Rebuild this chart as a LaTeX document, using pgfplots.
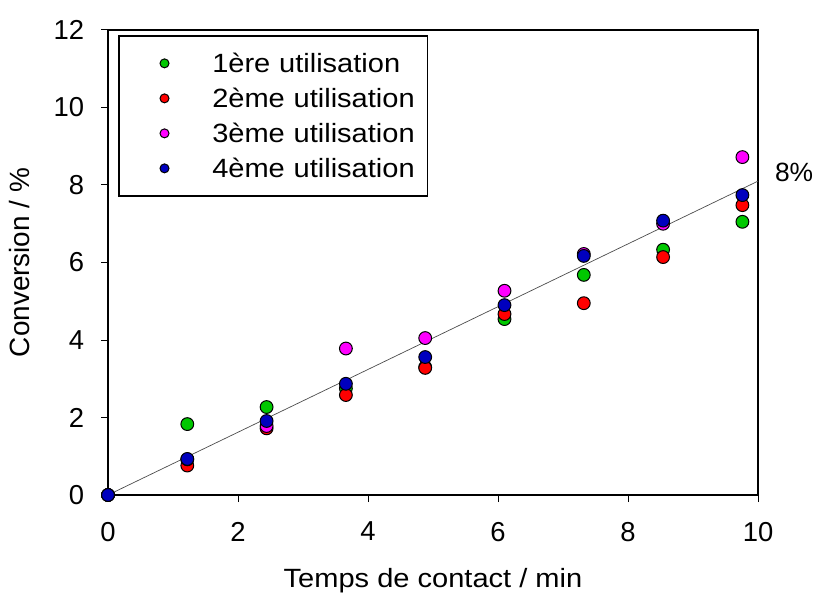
\documentclass[border=0pt]{standalone}
\usepackage{fontspec}
\setmainfont[FakeStretch=1.1]{Liberation Sans}
\newfontfamily\plainfont{Liberation Sans}
\usepackage{pgfplots}
\pgfplotsset{compat=1.18}
\definecolor{cgreen}{RGB}{0,200,0}
\definecolor{cred}{RGB}{255,0,0}
\definecolor{cmag}{RGB}{255,0,255}
\definecolor{cblue}{RGB}{0,0,190}
\begin{document}
\fontsize{26.5}{30}\selectfont
\begin{tikzpicture}
\begin{axis}[
  scale only axis,
  width=650bp, height=465bp,
  xmin=0, xmax=10, ymin=0, ymax=12,
  xtick={0,2,4,6,8,10},
  ytick={0,2,4,6,8,10,12},
  tick align=outside,
  xtick pos=bottom, ytick pos=left,
  major tick length=7bp,
  tick style={black, line width=1bp},
  axis line style={line width=1.5bp},
  /pgf/number format/assume math mode=true,
  ticklabel style={font=\plainfont\fontsize{27.5}{30}\selectfont},
  xticklabel style={yshift=-11bp},
  yticklabel style={xshift=-8bp},
  xlabel={\fontsize{26.5}{30}\selectfont Temps de contact / min},
  ylabel={\plainfont\fontsize{28}{30}\selectfont Conversion / \%},
  xlabel style={yshift=-9bp},
  ylabel style={yshift=6bp},
  clip=false,
  legend style={at={(0.0154,0.989)}, anchor=north west, draw=black, line width=1.5bp,
    inner xsep=0bp, inner ysep=15bp, row sep=10bp,
    nodes={inner sep=0bp, text height=22bp, text depth=3bp, text width=215bp, align=left, font=\fontsize{26.5}{30}\selectfont}},
  legend cell align=left,
  legend image code/.code={\path (0bp,0bp) (92bp,0bp); \draw[#1, mark size=4.5bp] plot coordinates {(45bp,0bp)};},
]
\addplot[only marks, mark=*, mark size=6.4bp, mark options={fill=cgreen, draw=black, line width=1bp}] coordinates {
(0,0) (1.22,1.83) (2.44,2.27) (3.66,2.75) (4.88,3.30) (6.10,4.54) (7.32,5.68) (8.54,6.33) (9.76,7.05)};
\addlegendentry{1ère utilisation}
\addplot[only marks, mark=*, mark size=6.4bp, mark options={fill=cred, draw=black, line width=1bp}] coordinates {
(0,0) (1.22,0.76) (2.44,1.72) (3.66,2.58) (4.88,3.28) (6.10,4.67) (7.32,4.95) (8.54,6.14) (9.76,7.48)};
\addlegendentry{2ème utilisation}
\addplot[only marks, mark=*, mark size=6.4bp, mark options={fill=cmag, draw=black, line width=1bp}] coordinates {
(0,0) (1.22,0.92) (2.44,1.78) (3.66,3.78) (4.88,4.05) (6.10,5.27) (7.32,6.22) (8.54,7.00) (9.76,8.72)};
\addlegendentry{3ème utilisation}
\addplot[only marks, mark=*, mark size=6.4bp, mark options={fill=cblue, draw=black, line width=1bp}] coordinates {
(0,0) (1.22,0.93) (2.44,1.91) (3.66,2.87) (4.88,3.56) (6.10,4.90) (7.32,6.17) (8.54,7.08) (9.76,7.74)};
\addlegendentry{4ème utilisation}
\addplot[forget plot, no marks, color=black!70, line width=0.7bp] coordinates {(0,0) (10,8.1)};
\node[anchor=west, font=\plainfont\fontsize{26.5}{30}\selectfont] at (axis cs:10,8.1) [xshift=8bp, yshift=9bp] {8\%};
\end{axis}
\pgfresetboundingbox
\path[use as bounding box] ([shift={(-108bp,-99bp)}]current axis.south west) rectangle ([shift={(60bp,30bp)}]current axis.north east);
\end{tikzpicture}
\end{document}
